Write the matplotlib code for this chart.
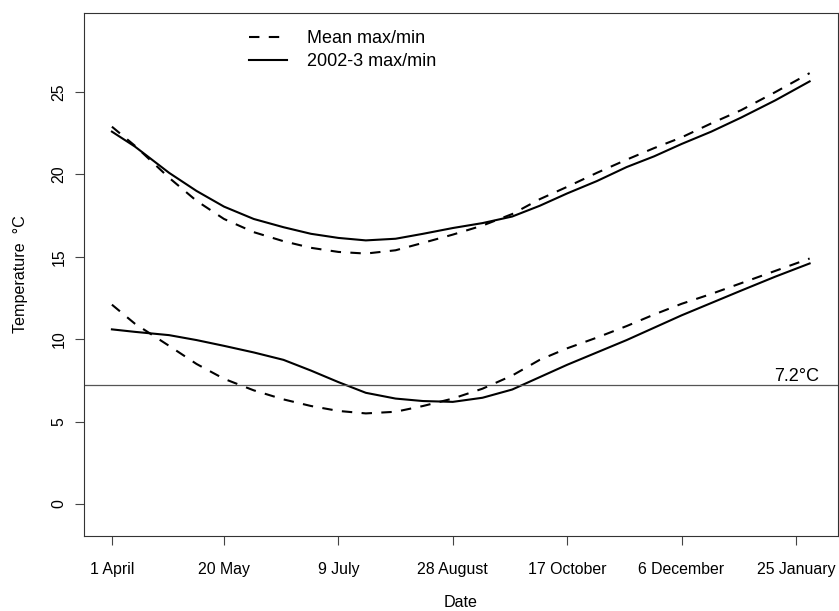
import matplotlib
matplotlib.use('Agg')
import matplotlib.pyplot as plt

plt.rcParams['font.family'] = ['Liberation Sans', 'DejaVu Sans']

# days counted from 1 April
days = [0, 10, 25, 37, 49, 62, 75, 87, 99, 111, 124, 136, 149,
        162, 175, 187, 199, 212, 225, 237, 249, 262, 275, 290, 305]

mean_max = [22.9, 21.75, 19.8, 18.4, 17.3, 16.5, 15.95, 15.55, 15.3, 15.2, 15.4, 15.85, 16.35,
            16.9, 17.6, 18.5, 19.25, 20.1, 20.9, 21.6, 22.25, 23.1, 23.9, 25.0, 26.15]
mean_min = [12.1, 10.95, 9.6, 8.5, 7.6, 6.9, 6.35, 5.95, 5.65, 5.5, 5.6, 5.95, 6.4,
            7.0, 7.8, 8.75, 9.45, 10.1, 10.8, 11.5, 12.15, 12.75, 13.4, 14.15, 14.9]
max_0203 = [22.6, 21.7, 20.1, 19.0, 18.05, 17.3, 16.8, 16.4, 16.15, 16.0, 16.1, 16.4, 16.75,
            17.05, 17.45, 18.1, 18.85, 19.6, 20.45, 21.1, 21.85, 22.6, 23.45, 24.5, 25.65]
min_0203 = [10.6, 10.45, 10.25, 9.95, 9.6, 9.2, 8.75, 8.1, 7.4, 6.75, 6.4, 6.25, 6.2,
            6.45, 6.95, 7.7, 8.45, 9.2, 9.95, 10.7, 11.45, 12.2, 12.95, 13.8, 14.6]

tick_days = [0, 49, 99, 149, 199, 249, 299]
tick_labels = ['1 April', '20 May', '9 July', '28 August', '17 October', '6 December', '25 January']
y_ticks = [0, 5, 10, 15, 20, 25]
threshold = 7.2

fig = plt.figure(figsize=(8.39, 6.11), dpi=100, facecolor='w')
ax = fig.add_axes([84 / 839, 1 - 536 / 611, 754 / 839, 523 / 611])

dash = (0, (5, 4.5))
lw = 1.5
ax.plot(days, mean_max, color='black', lw=lw, linestyle=dash, label='Mean max/min')
ax.plot(days, max_0203, color='black', lw=lw, label='2002-3 max/min')
ax.plot(days, mean_min, color='black', lw=lw, linestyle=dash)
ax.plot(days, min_0203, color='black', lw=lw)

ax.axhline(threshold, color='#555555', lw=0.9)
ax.annotate('7.2\u00b0C', xy=(309, threshold), xytext=(0, 0.5), textcoords='offset points',
            ha='right', va='bottom', fontsize=13)

ax.set_xlim(-12.2, 317.4)
ax.set_ylim(-1.94, 29.8)
ax.set_xticks(tick_days)
ax.set_xticklabels(tick_labels)
ax.set_yticks(y_ticks)
ax.tick_params(axis='both', direction='out', length=6.5, width=0.8, color='#444444', labelsize=11.4)
ax.tick_params(axis='x', pad=12)
ax.tick_params(axis='y', pad=6)
for lab in ax.get_yticklabels():
    lab.set_rotation(90)
    lab.set_va('center')

for sp in ax.spines.values():
    sp.set_color('#333333')
    sp.set_linewidth(0.8)

ax.set_xlabel('Date', fontsize=11.6, labelpad=13.5)
ax.set_ylabel('Temperature  \u00b0C', fontsize=11.6, labelpad=17)

leg = ax.legend(loc='upper left', bbox_to_anchor=(0.219, 0.967), frameon=False, fontsize=13,
                handlelength=2.1, handletextpad=1.1, labelspacing=0.32,
                borderpad=0, borderaxespad=0)

fig.savefig('out.png', dpi=100)
